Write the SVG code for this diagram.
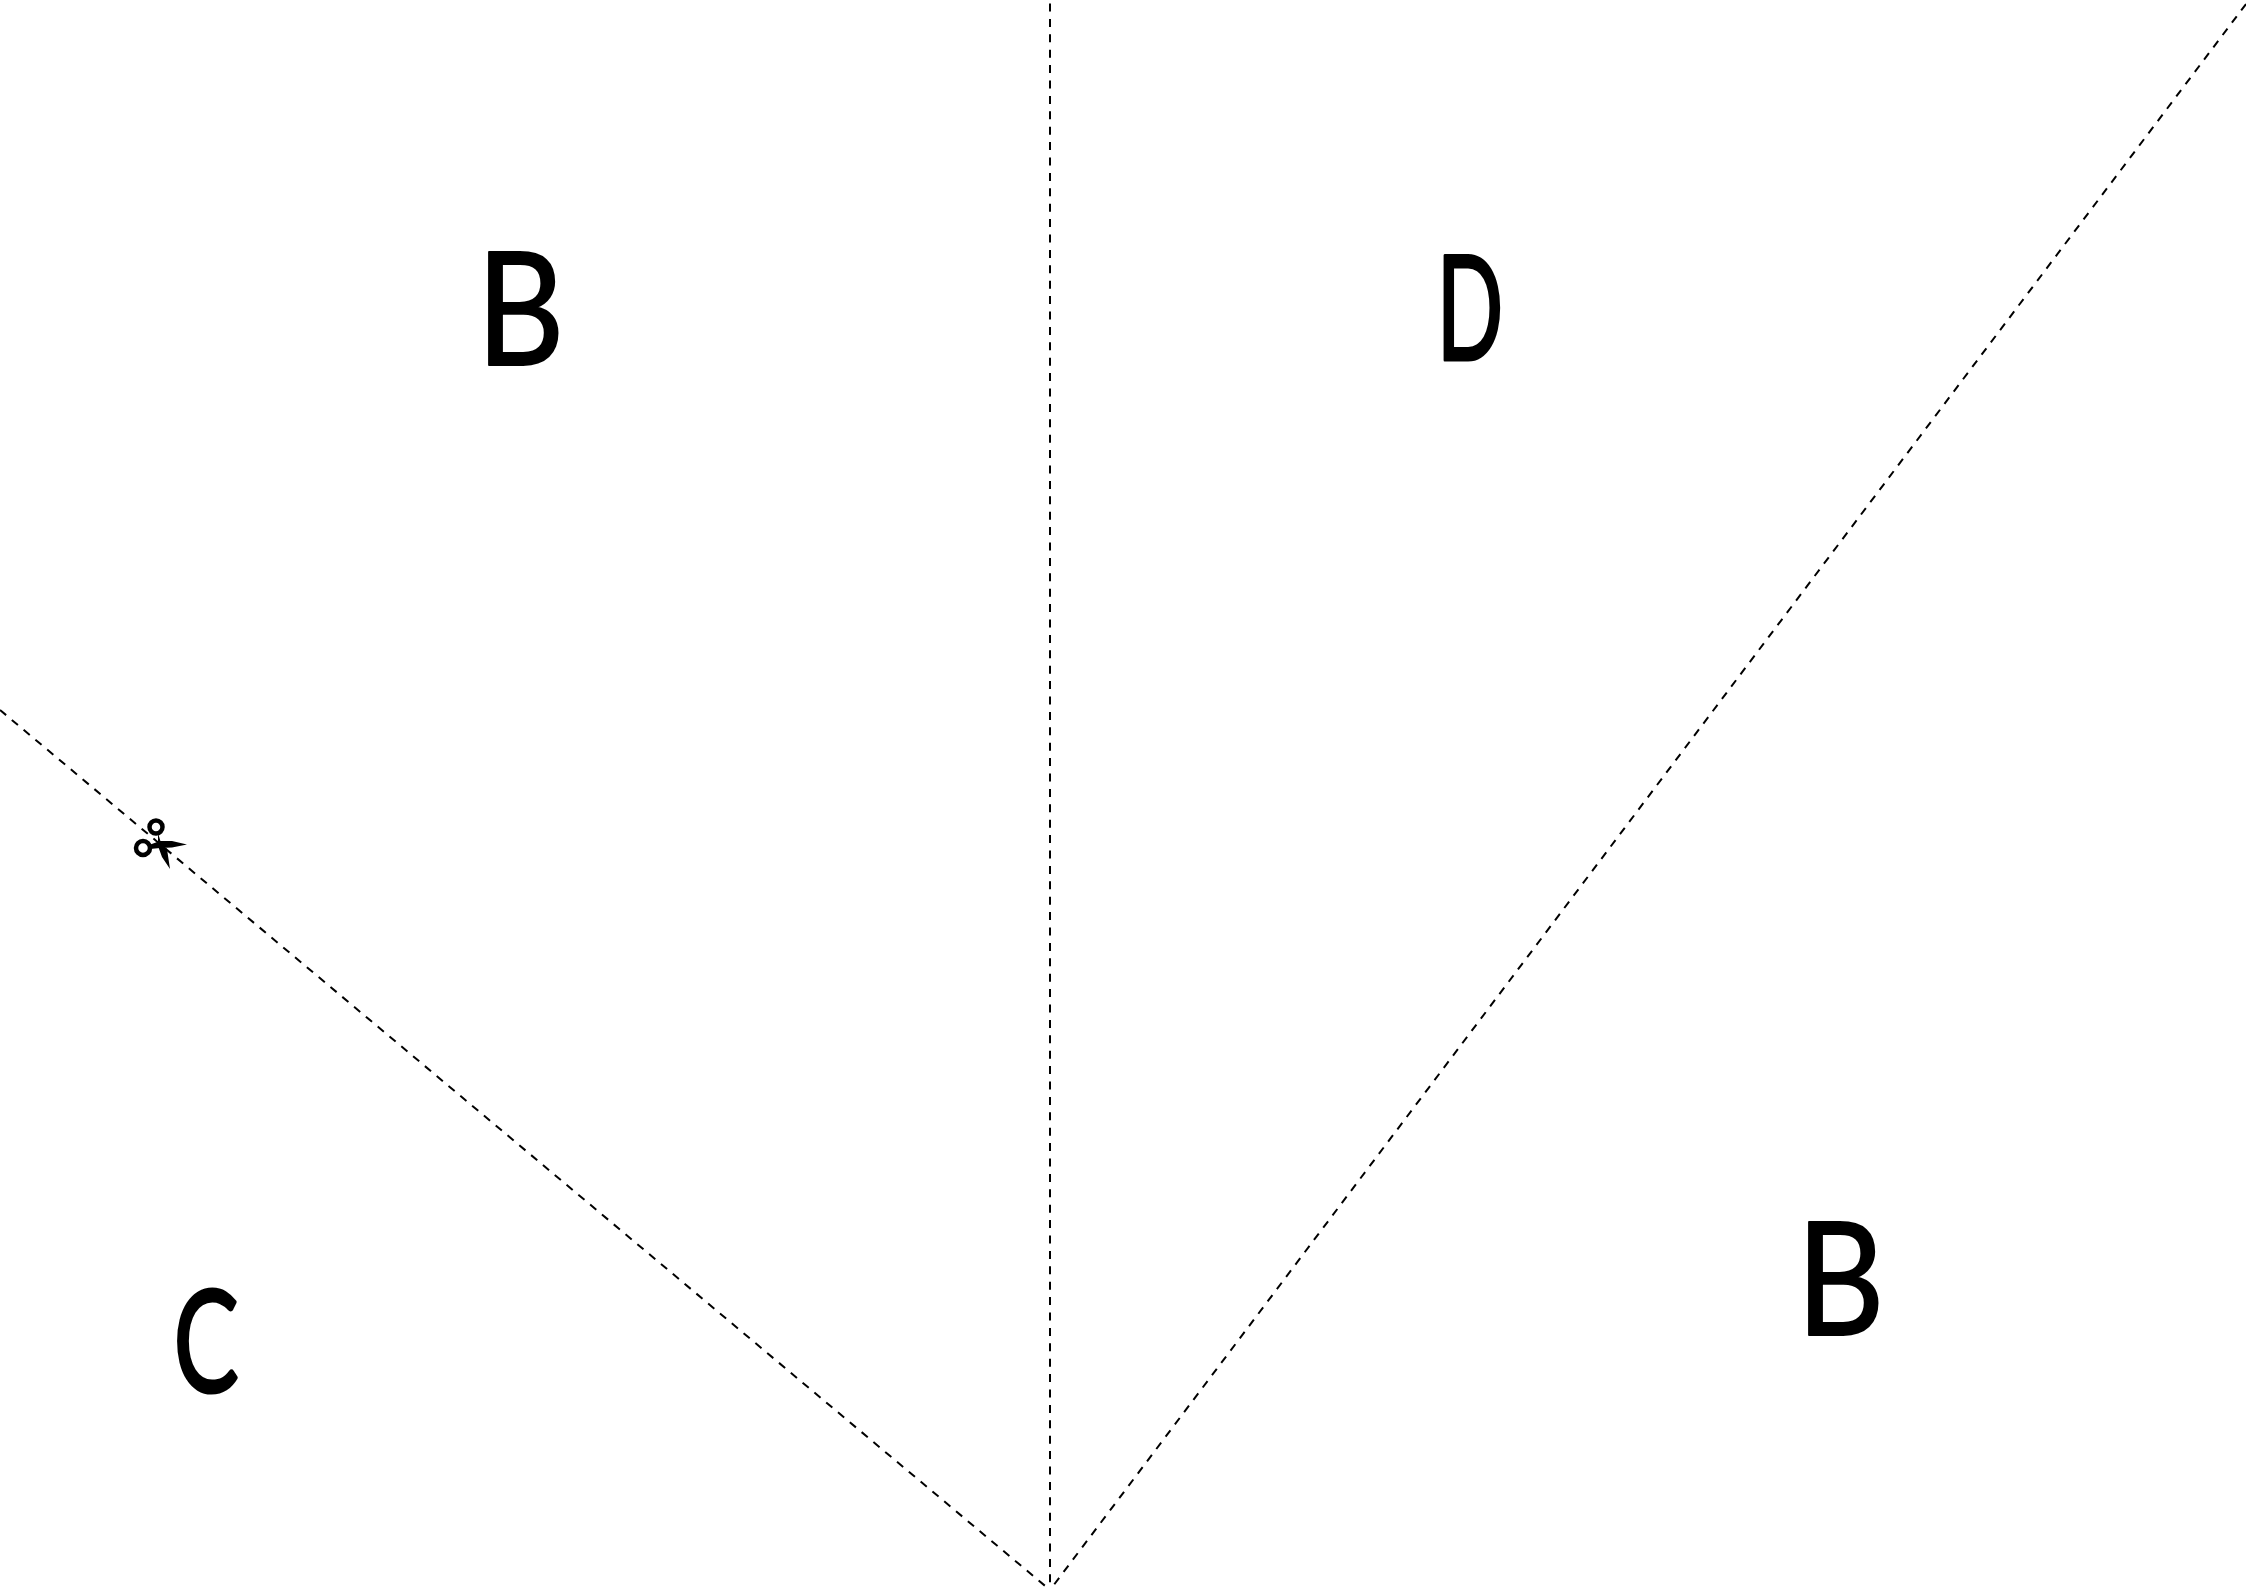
<svg xmlns="http://www.w3.org/2000/svg" width="2246" height="1588" viewBox="0 0 2246 1588">
<style>
.cut{fill:none;stroke:#000;stroke-width:2;stroke-dasharray:8 7.4}
.lbl{font-family:"Lato","Open Sans",sans-serif;font-size:160px;fill:#000;stroke:#000;stroke-width:2;stroke-linejoin:round;text-anchor:middle}
</style>
<rect width="2246" height="1588" fill="#fff"/>
<g id="connectors">
<path class="cut" d="M1050 3.500L1050 1590"/>
<path class="cut" d="M0 710L1050 1590"/>
<path class="cut" d="M2246 4L1050 1590"/>
</g>
<g id="scissors">
<circle cx="156" cy="827" r="6.500" fill="none" stroke="#000" stroke-width="4.500"/>
<circle cx="143" cy="848" r="7" fill="none" stroke="#000" stroke-width="4.500"/>
<path d="M149 845L160 841L172 841L187 844.500L172 847.500L160 848L150 849Z"/>
<path d="M158 833L161 843L167 849L170 869L162 857L158 846Z"/>
</g>
<g id="label-b1"><text class="lbl" transform="translate(520.500 365) scale(.85 .98)">B</text></g>
<g id="label-d"><text class="lbl" style="stroke-width:3.500" transform="translate(1470 360) scale(.55 .915)">D</text></g>
<g id="label-c"><text class="lbl" style="stroke-width:3.500" transform="translate(206 1392) scale(.61 .89)">C</text></g>
<g id="label-b2"><text class="lbl" transform="translate(1840.500 1335) scale(.85 .98)">B</text></g>
</svg>
